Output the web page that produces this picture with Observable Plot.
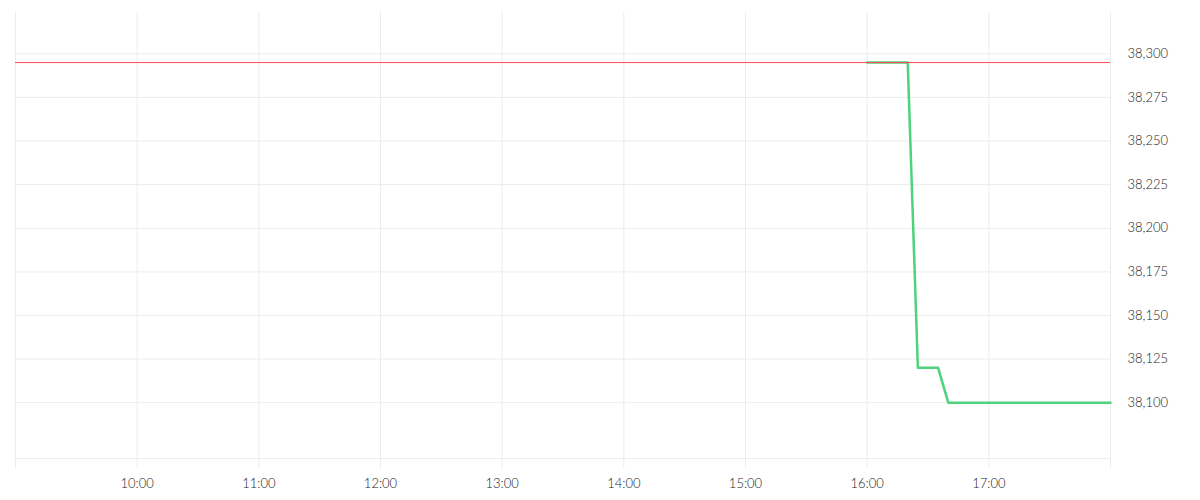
<!DOCTYPE html>
<html>
<head>
<meta charset="utf-8">
<script src="https://cdn.jsdelivr.net/npm/d3@7"></script>
<script src="https://cdn.jsdelivr.net/npm/@observablehq/plot@0.6"></script>
<style>
  html, body { margin: 0; padding: 0; background: #fff; }
  #chart { width: 1200px; height: 500px; }
</style>
</head>
<body>
<div id="chart"></div>
<script>
const day = "2024-01-02";
const times = ["16:00","16:05","16:10","16:15","16:20","16:25","16:30","16:35","16:40","16:45","16:50","16:55",
  "17:00","17:05","17:10","17:15","17:20","17:25","17:30","17:35","17:40","17:45","17:50","17:55","18:00"];
const prices = [38295,38295,38295,38295,38295,38120,38120,38120,38100,38100,38100,38100,
  38100,38100,38100,38100,38100,38100,38100,38100,38100,38100,38100,38100,38100];
const referencePrice = 38295;
const gridHours = ["09:00","10:00","11:00","12:00","13:00","14:00","15:00","16:00","17:00","18:00"];
const labelHours = ["10:00","11:00","12:00","13:00","14:00","15:00","16:00","17:00"];
const yTicks = [38100,38125,38150,38175,38200,38225,38250,38275,38300];
const yDomain = [38068, 38323.7];

const toDate = t => new Date(`${day}T${t}:00`);
const data = times.map((t, i) => ({time: toDate(t), price: prices[i]}));
const gridDates = gridHours.map(toDate);
const labelDates = labelHours.map(toDate);

const gridColor = "#ececec";
const chart = Plot.plot({
  width: 1200,
  height: 500,
  marginLeft: 15,
  marginRight: 90,
  marginTop: 12,
  marginBottom: 32,
  style: {fontFamily: "Lato, sans-serif", fontSize: "13px", fontWeight: 300, color: "#222", background: "#fff"},
  x: {type: "time", domain: [toDate("09:00"), toDate("18:00")]},
  y: {domain: yDomain, insetBottom: 10},
  marks: [
    Plot.ruleX(gridDates, {stroke: gridColor, strokeWidth: 1}),
    Plot.ruleY(yTicks, {stroke: gridColor, strokeWidth: 1}),
    Plot.ruleY([yDomain[0]], {stroke: gridColor, strokeWidth: 1}),
    Plot.axisX(labelDates, {tickSize: 0, tickPadding: 10, tickFormat: d3.timeFormat("%H:%M"), label: null, fill: "#1a1a1a"}),
    Plot.axisY(yTicks, {anchor: "right", tickSize: 0, tickPadding: 17, textAnchor: "start", tickFormat: d3.format(","), label: null, fill: "#1a1a1a"}),
    Plot.line(data, {x: "time", y: "price", stroke: "#4fd27c", strokeWidth: 2.5}),
    Plot.ruleY([referencePrice], {stroke: "#ff4b55", strokeWidth: 1})
  ]
});
document.getElementById("chart").append(chart);
</script>
</body>
</html>
